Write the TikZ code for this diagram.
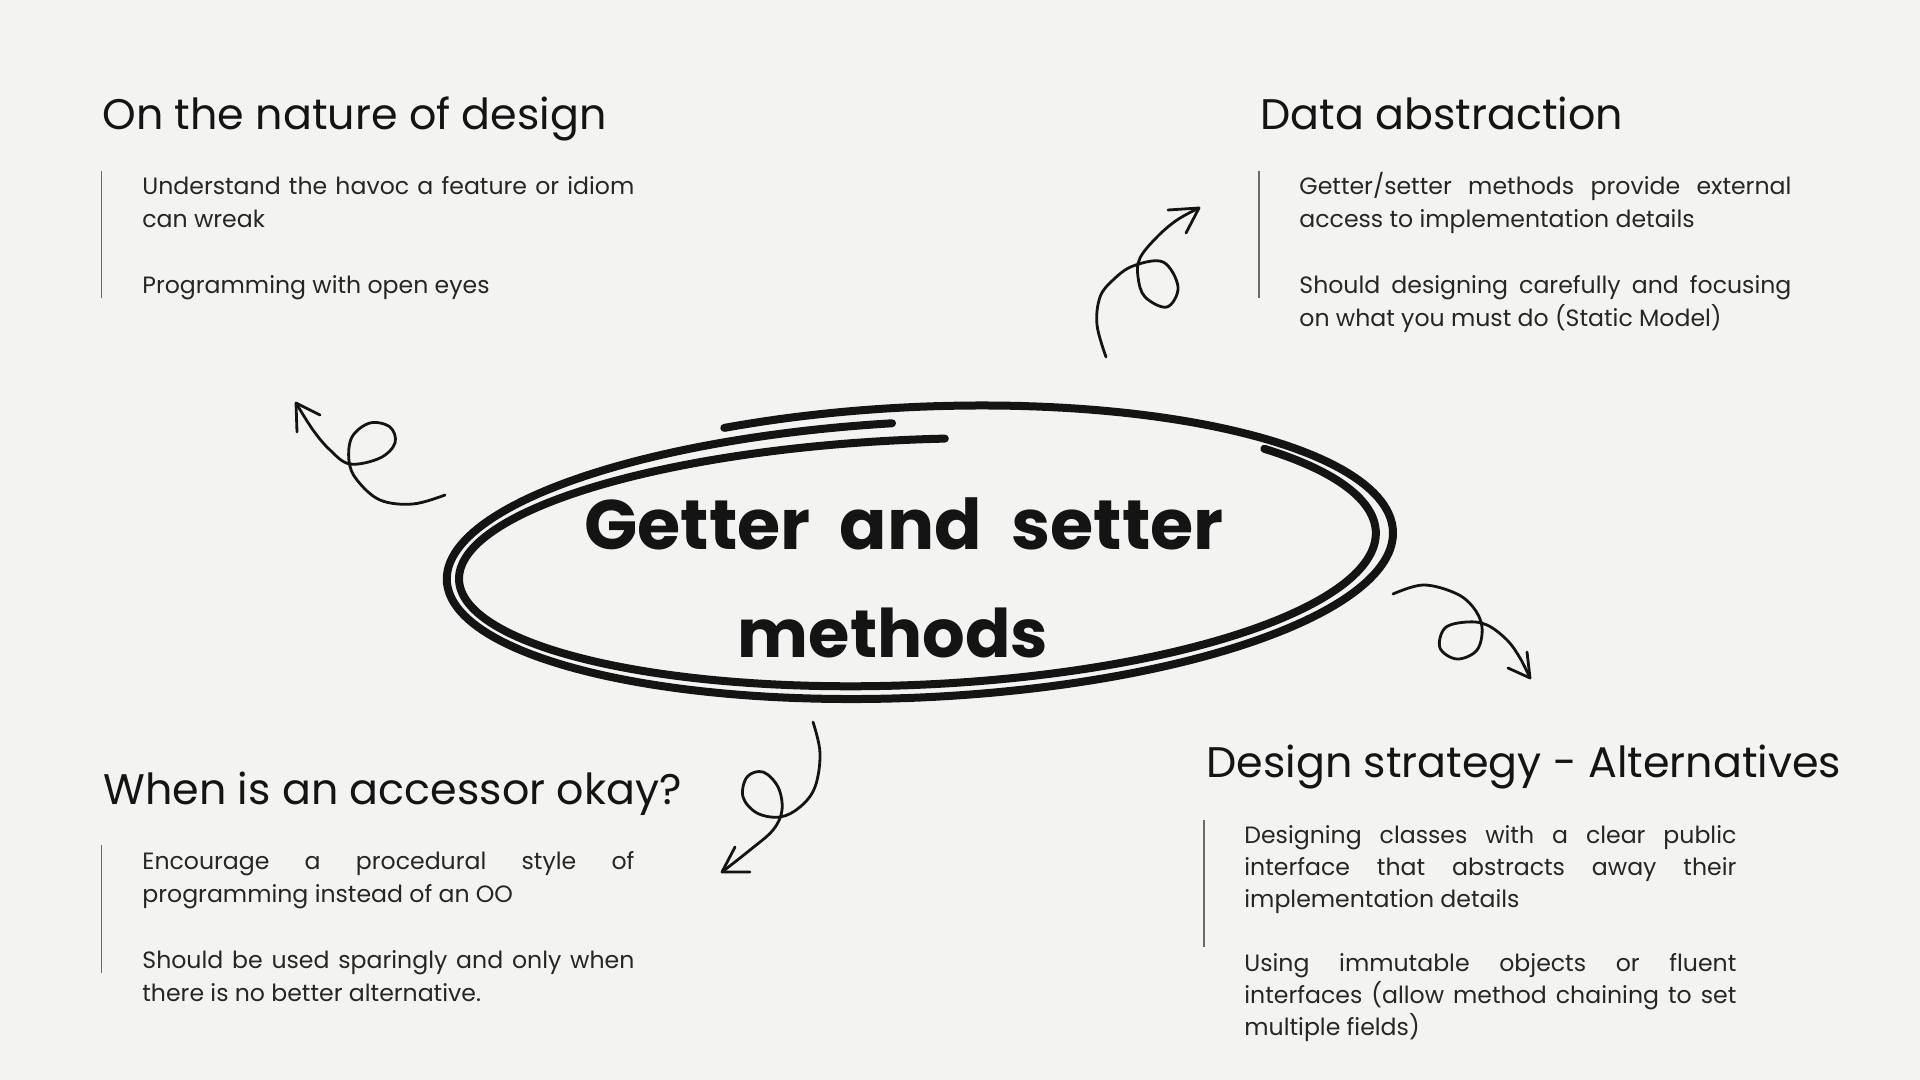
\documentclass[tikz,border=0pt]{standalone}
\usepackage{fontspec}
\setmainfont{Poppins}
\newfontfamily\headfont{Poppins}
\definecolor{paper}{HTML}{F3F3F2}
\definecolor{ink}{HTML}{141414}
\definecolor{bodyink}{HTML}{262626}
\definecolor{barline}{HTML}{6A6A6A}
\hyphenpenalty=10000
\exhyphenpenalty=10000
\begin{document}
\begin{tikzpicture}[x=0.5pt,y=-0.5pt,
  heading/.style={anchor=base west, inner sep=0pt, text=ink,
    font=\headfont\fontsize{21.4pt}{24pt}\selectfont},
  bodytext/.style={anchor=base west, inner sep=0pt, text width=246pt, align=justify,
    text=bodyink, font=\fontsize{11.8pt}{16.5pt}\selectfont},
  tightbody/.style={bodytext, font=\fontsize{11.8pt}{16pt}\selectfont},
  titletext/.style={inner sep=0pt, text=ink,
    font=\bfseries\fontsize{35pt}{40pt}\selectfont},
  bar/.style={draw=barline, line width=0.7pt},
  ring/.style={draw=ink, line width=4pt, line cap=round},
  squiggle/.style={draw=ink, line width=1.4pt, line cap=round, line join=round}
]
\useasboundingbox (0,0) rectangle (1920,1080);
\fill[paper] (0,0) rectangle (1920,1080);

% ---------- top left block ----------
\node[heading] (h1) at (102,130) {On the nature of design};
\draw[bar] (101.5,171) -- (101.5,298);
\node[bodytext] (b1) at (142,195)
  {Understand the havoc a feature or idiom\linebreak can wreak\par
   \vspace{16.5pt}Programming with open eyes};

% ---------- top right block ----------
\node[heading] (h2) at (1260,130) {Data abstraction};
\draw[bar] (1259,171) -- (1259,298);
\node[bodytext] (b2) at (1299,195)
  {Getter/setter methods provide external\linebreak access to implementation details\par
   \vspace{16.5pt}Should designing carefully and focusing\linebreak on what you must do (Static Model)};

% ---------- bottom left block ----------
\node[heading] (h3) at (103,804) {When is an accessor okay?};
\draw[bar] (101.5,845) -- (101.5,973);
\node[bodytext] (b3) at (142,869)
  {Encourage a procedural style of\linebreak programming instead of an OO\par
   \vspace{16.5pt}Should be used sparingly and only when\linebreak there is no better alternative.};

% ---------- bottom right block ----------
\node[heading] (h4) at (1206,777) {Design strategy - Alternatives};
\draw[bar] (1204,820) -- (1204,947);
\node[tightbody] (b4) at (1244,843)
  {Designing classes with a clear public\linebreak interface that abstracts away their\linebreak implementation details\par
   \vspace{16pt}Using immutable objects or fluent\linebreak interfaces (allow method chaining to set\linebreak multiple fields)};

% ---------- central title inside a hand-drawn loop ----------
% spiral ring: angle runs clockwise while the radii shrink a little
\def\ringcx{918}\def\ringcy{556}\def\ringtilt{3}
\draw[ring] plot[domain=0:1, samples=220, variable=\t]
  ({\ringcx + (478-8*\t)*cos(113-381*\t)*cos(\ringtilt) - (150-16*\t)*sin(113-381*\t)*sin(\ringtilt)},
   {\ringcy - (478-8*\t)*cos(113-381*\t)*sin(\ringtilt) - (150-16*\t)*sin(113-381*\t)*cos(\ringtilt)});
\draw[ring] plot[domain=0:1, samples=200, variable=\t]
  ({\ringcx - 4 + (464-12*\t)*cos(40-315*\t)*cos(\ringtilt) - (138-22*\t)*sin(40-315*\t)*sin(\ringtilt)},
   {\ringcy - (464-12*\t)*cos(40-315*\t)*sin(\ringtilt) - (138-22*\t)*sin(40-315*\t)*cos(\ringtilt)});

\node[titletext] (t1) at (904,524) {Getter\hspace{0.42em}and\hspace{0.42em}setter};
\node[titletext, font=\bfseries\fontsize{33.5pt}{40pt}\selectfont] (t2) at (893,633) {methods};

% ---------- looped arrows ----------
% up-left arrow
\draw[squiggle] plot[smooth, tension=0.6] coordinates {
  (445,495) (413,504) (380,500) (357,480) (349,461) (352,437) (370,423)
  (390,427) (395,443) (380,458) (350,464) (330,450) (313,430) (296,403)};
\coordinate (a1) at (296,403);
\draw[squiggle] (320,415) -- (a1) -- (297,432);

% up-right arrow
\draw[squiggle] plot[smooth, tension=0.6] coordinates {
  (1106,357) (1097,325) (1100,297) (1113,280) (1133,266) (1163,262)
  (1178,287) (1167,307) (1145,297) (1138,277) (1140,258) (1157,237)
  (1177,220) (1199,208)};
\coordinate (a2) at (1199,208);
\draw[squiggle] (1168,210) -- (a2) -- (1186,233);

% down-right arrow
\draw[squiggle] plot[smooth, tension=0.6] coordinates {
  (1393,594) (1423,585) (1455,593) (1473,607) (1482,627) (1477,650)
  (1457,659) (1440,648) (1445,628) (1467,622) (1487,625) (1507,640)
  (1520,658) (1530,678)};
\coordinate (a3) at (1530,678);
\draw[squiggle] (1508,668) -- (a3) -- (1527,652);

% down-left arrow
\draw[squiggle] plot[smooth, tension=0.6] coordinates {
  (813,722) (820,753) (815,787) (800,807) (780,817) (757,813) (743,797)
  (747,777) (763,772) (778,787) (782,810) (773,830) (750,850) (722,872)};
\coordinate (a4) at (722,872);
\draw[squiggle] (750,872) -- (a4) -- (735,847);
\end{tikzpicture}
\end{document}
